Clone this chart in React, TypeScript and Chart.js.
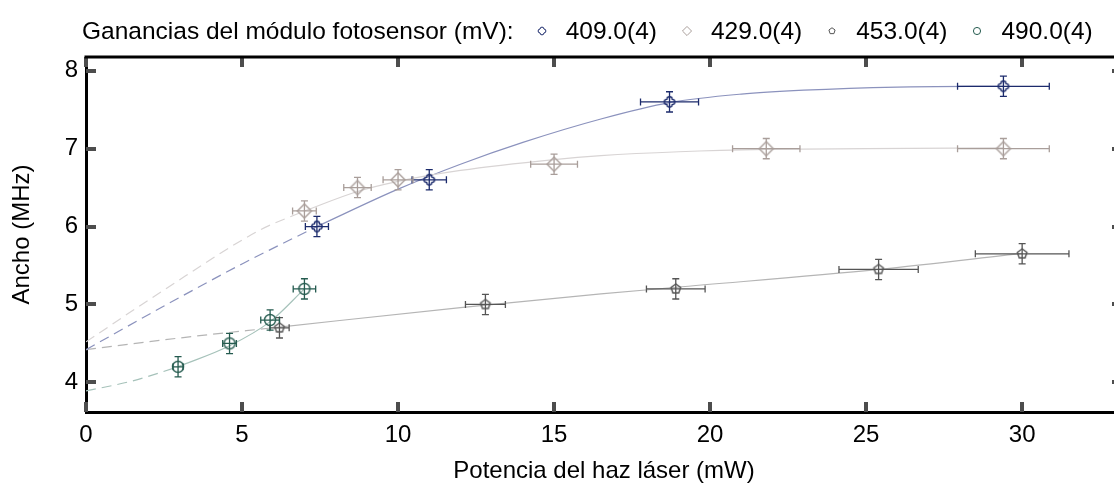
import React, { useEffect, useRef } from 'react';
import { Chart, registerables } from 'chart.js';

Chart.register(...registerables);

const FONT = "'Liberation Sans', Arial, Helvetica, sans-serif";

// ---- axes ----
const xMin = 0;
const xMax = 33.2;
const xStep = 5;
const yMin = 3.62;
const yMax = 8.176;
const yStep = 1;
const xTitle = 'Potencia del haz láser (mW)';
const yTitle = 'Ancho (MHz)';
const legendTitle = 'Ganancias del módulo fotosensor (mV):';
const seriesNames = ['409.0(4)', '429.0(4)', '453.0(4)', '490.0(4)'];

// ---- measured points ----
const p409X = [7.4, 11.0, 18.7, 29.4];
const p409Y = [6.0, 6.6, 7.6, 7.8];
const p409Ex = [0.37, 0.55, 0.93, 1.47];
const p409Ey = [0.13, 0.13, 0.13, 0.13];

const p429X = [7.0, 8.7, 10.0, 15.0, 21.8, 29.4];
const p429Y = [6.2, 6.5, 6.6, 6.8, 7.0, 7.0];
const p429Ex = [0.38, 0.44, 0.48, 0.75, 1.08, 1.47];
const p429Ey = [0.13, 0.13, 0.13, 0.13, 0.13, 0.13];

const p453X = [6.2, 12.8, 18.9, 25.4, 30.0];
const p453Y = [4.7, 5.0, 5.2, 5.45, 5.65];
const p453Ex = [0.31, 0.64, 0.94, 1.27, 1.5];
const p453Ey = [0.13, 0.13, 0.13, 0.13, 0.13];

const p490X = [2.95, 4.6, 5.9, 7.0];
const p490Y = [4.2, 4.5, 4.8, 5.2];
const p490Ex = [0.16, 0.22, 0.3, 0.36];
const p490Ey = [0.13, 0.13, 0.13, 0.13];

// ---- fitted curves ----
const f409DashX = [0, 2.5, 5, 7.4];
const f409DashY = [4.42, 4.98, 5.52, 6.0];
const f409X = [7.4, 10, 12, 14, 16.5, 18.7, 21, 23, 26, 29.4];
const f409Y = [6.0, 6.48, 6.8, 7.08, 7.38, 7.59, 7.7, 7.75, 7.79, 7.8];

const f429DashX = [0, 2.4, 5.6, 7.0];
const f429DashY = [4.52, 5.16, 5.96, 6.2];
const f429X = [7.0, 8.7, 10, 12, 15, 16.5, 19, 21.8, 25, 29.4];
const f429Y = [6.2, 6.45, 6.58, 6.72, 6.86, 6.91, 6.96, 6.99, 7.0, 7.01];

const f453DashX = [0, 3, 6.2];
const f453DashY = [4.42, 4.57, 4.71];
const f453X = [6.2, 12, 16.5, 18.9, 25.4, 30];
const f453Y = [4.71, 4.96, 5.135, 5.22, 5.45, 5.655];

const f490DashX = [0, 1.5, 2.95];
const f490DashY = [3.89, 4.02, 4.2];
const f490X = [2.95, 4.6, 5.9, 7.0];
const f490Y = [4.2, 4.47, 4.78, 5.2];

// ---- colours ----
const C409 = '#1c2b6c';
const C409L = '#8b92bd';
const C429 = '#a99e9a';
const C429L = '#d8d4d4';
const C453 = '#555555';
const C453L = '#b5b5b5';
const C490 = '#255b4f';
const C490L = '#a6c2ba';

type Kind = 'clover' | 'diamond' | 'pentagon' | 'circle';

function tracePath(ctx: CanvasRenderingContext2D, kind: Kind, s: number) {
  ctx.beginPath();
  if (kind === 'clover') {
    const r = 2.6 * s;
    const dirs = [-Math.PI / 2, 0, Math.PI / 2, Math.PI];
    dirs.forEach((t, i) => {
      const cx = r * Math.cos(t);
      const cy = r * Math.sin(t);
      const a0 = t - Math.PI / 2;
      const a1 = t + Math.PI / 2;
      if (i === 0) ctx.moveTo(cx + r * Math.cos(a0), cy + r * Math.sin(a0));
      ctx.arc(cx, cy, r, a0, a1);
    });
    ctx.closePath();
  } else if (kind === 'diamond') {
    const h = 7 * s;
    ctx.moveTo(0, -h);
    ctx.lineTo(h, 0);
    ctx.lineTo(0, h);
    ctx.lineTo(-h, 0);
    ctx.closePath();
  } else if (kind === 'pentagon') {
    const r = 5 * s;
    for (let i = 0; i < 5; i++) {
      const a = -Math.PI / 2 + (i * 2 * Math.PI) / 5;
      const px = r * Math.cos(a);
      const py = r * Math.sin(a);
      if (i === 0) ctx.moveTo(px, py);
      else ctx.lineTo(px, py);
    }
    ctx.closePath();
  } else {
    ctx.arc(0, 0, 5.5 * s, 0, Math.PI * 2);
  }
}

function markerCanvas(kind: Kind, color: string, s = 1, lw = 1.4) {
  const size = Math.ceil(20 * s);
  const c = document.createElement('canvas');
  c.width = size;
  c.height = size;
  const ctx = c.getContext('2d')!;
  ctx.translate(size / 2, size / 2);
  ctx.strokeStyle = color;
  ctx.lineWidth = lw;
  tracePath(ctx, kind, s);
  ctx.stroke();
  return c;
}

const framePlugin = {
  id: 'frame',
  beforeDatasetsDraw(chart: any) {
    const { ctx, chartArea: a } = chart;
    const xs = chart.scales.x;
    const ys = chart.scales.y;
    ctx.save();
    ctx.fillStyle = '#4d4d4d';
    const len = 10;
    const w = 4;
    xs.ticks.forEach((t: any) => {
      const px = Math.round(xs.getPixelForValue(t.value));
      ctx.fillRect(px - w / 2, a.bottom - len, w, len);
      ctx.fillRect(px - w / 2, a.top, w, len);
    });
    ys.ticks.forEach((t: any) => {
      const py = Math.round(ys.getPixelForValue(t.value));
      ctx.fillRect(a.left, py - w / 2, len, w);
      ctx.fillRect(a.right - len, py - w / 2, len, w);
    });
    ctx.restore();
  },
  afterDraw(chart: any) {
    const { ctx, chartArea: a } = chart;
    ctx.save();
    ctx.strokeStyle = '#000';
    ctx.lineWidth = 3;
    ctx.beginPath();
    ctx.moveTo(a.left - 1.5, a.top);
    ctx.lineTo(a.right, a.top);
    ctx.stroke();
    ctx.restore();
  },
};

const errorBarPlugin = {
  id: 'errbars',
  afterDatasetsDraw(chart: any) {
    const { ctx } = chart;
    const xs = chart.scales.x;
    const ys = chart.scales.y;
    ctx.save();
    ctx.lineWidth = 1.3;
    chart.data.datasets.forEach((ds: any) => {
      if (!ds.errX) return;
      ctx.strokeStyle = ds.errColor;
      ds.data.forEach((p: any, i: number) => {
        const px = xs.getPixelForValue(p.x);
        const py = ys.getPixelForValue(p.y);
        const xa = xs.getPixelForValue(p.x - ds.errX[i]);
        const xb = xs.getPixelForValue(p.x + ds.errX[i]);
        const ya = ys.getPixelForValue(p.y - ds.errY[i]);
        const yb = ys.getPixelForValue(p.y + ds.errY[i]);
        const cap = 3.5;
        ctx.beginPath();
        ctx.moveTo(xa, py);
        ctx.lineTo(xb, py);
        ctx.moveTo(xa, py - cap);
        ctx.lineTo(xa, py + cap);
        ctx.moveTo(xb, py - cap);
        ctx.lineTo(xb, py + cap);
        ctx.moveTo(px, ya);
        ctx.lineTo(px, yb);
        ctx.moveTo(px - cap, ya);
        ctx.lineTo(px + cap, ya);
        ctx.moveTo(px - cap, yb);
        ctx.lineTo(px + cap, yb);
        ctx.stroke();
      });
    });
    ctx.restore();
  },
};

function LegendIcon({ kind, color }: { kind: Kind; color: string }) {
  const ref = useRef<HTMLCanvasElement>(null);
  useEffect(() => {
    const c = ref.current!;
    const ctx = c.getContext('2d')!;
    ctx.clearRect(0, 0, c.width, c.height);
    ctx.save();
    ctx.translate(c.width / 2, c.height / 2);
    ctx.strokeStyle = color;
    ctx.lineWidth = 1;
    tracePath(ctx, kind, kind === 'clover' ? 0.75 : 0.65);
    ctx.stroke();
    ctx.restore();
  }, [kind, color]);
  return <canvas ref={ref} width={14} height={14} style={{ display: 'block' }} />;
}

export default function App() {
  const ref = useRef<HTMLCanvasElement>(null);

  useEffect(() => {
    Chart.defaults.font.family = FONT;
    const pts = (xs: number[], ys: number[]) => xs.map((x, i) => ({ x, y: ys[i] }));
    const scatter = (label: string, xs: number[], ys: number[], ex: number[], ey: number[], color: string, kind: Kind) => ({
      type: 'scatter' as const,
      label,
      data: pts(xs, ys),
      showLine: false,
      pointStyle: markerCanvas(kind, color),
      pointRadius: 7,
      pointHoverRadius: 7,
      errX: ex,
      errY: ey,
      errColor: color,
      order: 1,
    });
    const curve = (xs: number[], ys: number[], color: string, dashed: boolean) => ({
      type: 'line' as const,
      label: '',
      data: pts(xs, ys),
      borderColor: color,
      borderWidth: 1.2,
      borderDash: dashed ? [10, 6] : [],
      pointRadius: 0,
      pointHoverRadius: 0,
      cubicInterpolationMode: 'monotone' as const,
      fill: false,
      order: 2,
    });

    const chart = new Chart(ref.current!, {
      type: 'scatter',
      data: {
        datasets: [
          curve(f429DashX, f429DashY, C429L, true),
          curve(f429X, f429Y, C429L, false),
          curve(f409DashX, f409DashY, C409L, true),
          curve(f409X, f409Y, C409L, false),
          curve(f453DashX, f453DashY, C453L, true),
          curve(f453X, f453Y, C453L, false),
          curve(f490DashX, f490DashY, C490L, true),
          curve(f490X, f490Y, C490L, false),
          scatter(seriesNames[0], p409X, p409Y, p409Ex, p409Ey, C409, 'clover'),
          scatter(seriesNames[1], p429X, p429Y, p429Ex, p429Ey, C429, 'diamond'),
          scatter(seriesNames[2], p453X, p453Y, p453Ex, p453Ey, C453, 'pentagon'),
          scatter(seriesNames[3], p490X, p490Y, p490Ex, p490Ey, C490, 'circle'),
        ] as any,
      },
      options: {
        responsive: false,
        animation: false,
        events: [],
        layout: { padding: { left: 0, right: 8, top: 57, bottom: 0 } },
        plugins: {
          legend: { display: false },
          tooltip: { enabled: false },
        },
        scales: {
          x: {
            type: 'linear',
            min: xMin,
            max: xMax,
            afterFit: (s: any) => {
              s.height = 77;
            },
            grid: { display: false, drawTicks: false },
            border: { display: true, color: '#000', width: 3 },
            ticks: {
              stepSize: xStep,
              includeBounds: false,
              padding: 9,
              color: '#000',
              font: { size: 24, family: FONT },
              maxRotation: 0,
            },
            title: {
              display: true,
              text: xTitle,
              color: '#000',
              font: { size: 24, family: FONT },
              padding: { top: 0, bottom: 3 },
            },
          },
          y: {
            type: 'linear',
            min: yMin,
            max: yMax,
            afterFit: (s: any) => {
              s.width = 86;
            },
            grid: { display: false, drawTicks: false },
            border: { display: true, color: '#000', width: 3 },
            ticks: {
              stepSize: yStep,
              includeBounds: false,
              padding: 8,
              color: '#000',
              font: { size: 24, family: FONT },
            },
            title: {
              display: true,
              text: yTitle,
              color: '#000',
              font: { size: 24, family: FONT },
              padding: { top: 8, bottom: 0 },
            },
          },
        },
      } as any,
      plugins: [framePlugin, errorBarPlugin],
    });
    return () => chart.destroy();
  }, []);

  const legendKinds: Kind[] = ['clover', 'diamond', 'pentagon', 'circle'];
  const legendColors = [C409, C429, C453, C490];

  return (
    <div
      style={{
        position: 'absolute',
        left: 0,
        top: 0,
        width: 1114,
        height: 489,
        overflow: 'hidden',
        background: '#fff',
      }}
    >
      <canvas ref={ref} width={1130} height={489} style={{ position: 'absolute', left: 0, top: 0, width: 1130, height: 489 }} />
      <div
        style={{
          position: 'absolute',
          left: 0,
          top: 0,
          width: 1114,
          height: 62,
          display: 'flex',
          alignItems: 'center',
          justifyContent: 'flex-start',
          paddingLeft: 82,
          boxSizing: 'border-box',
          fontFamily: FONT,
          fontSize: 24.5,
          color: '#000',
          whiteSpace: 'nowrap',
        }}
      >
        <span style={{ marginRight: 21 }}>{legendTitle}</span>
        {seriesNames.map((n, i) => (
          <span key={n} style={{ display: 'flex', alignItems: 'center', marginRight: i < 3 ? 23 : 0 }}>
            <LegendIcon kind={legendKinds[i]} color={legendColors[i]} />
            <span style={{ marginLeft: 17 }}>{n}</span>
          </span>
        ))}
      </div>
    </div>
  );
}
